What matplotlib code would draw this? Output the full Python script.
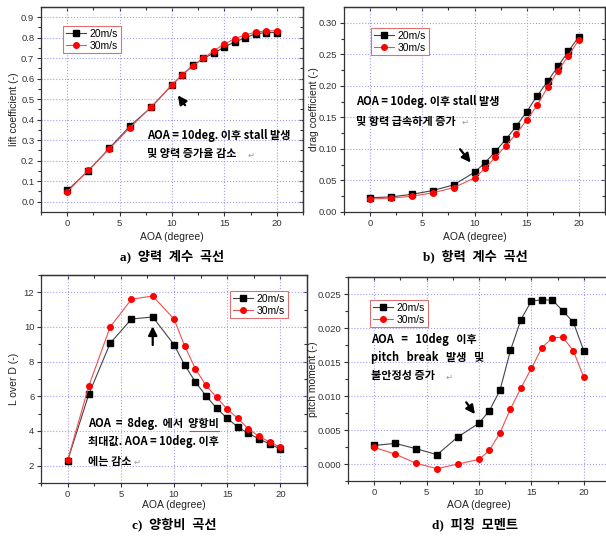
import matplotlib.pyplot as plt
import numpy as np

W, H = 606, 536

# --- DATA
aoa = [0, 2, 4, 6, 8, 10, 11, 12, 13, 14, 15, 16, 17, 18, 19, 20]

cl_20 = [0.055, 0.150, 0.260, 0.370, 0.460, 0.570, 0.620, 0.665, 0.700, 0.725,
         0.755, 0.780, 0.800, 0.820, 0.825, 0.825]
cl_30 = [0.048, 0.153, 0.257, 0.362, 0.462, 0.570, 0.620, 0.663, 0.700, 0.737,
         0.770, 0.795, 0.815, 0.827, 0.833, 0.835]

cd_20 = [0.0226, 0.024, 0.028, 0.034, 0.043, 0.063, 0.078, 0.096, 0.115, 0.136,
         0.159, 0.184, 0.207, 0.231, 0.255, 0.278]
cd_30 = [0.0205, 0.022, 0.025, 0.0305, 0.0385, 0.054, 0.069, 0.087, 0.105, 0.124,
         0.146, 0.169, 0.198, 0.224, 0.248, 0.273]

ld_20 = [2.29, 6.13, 9.06, 10.46, 10.58, 8.98, 7.81, 6.84, 6.03, 5.32,
         4.73, 4.23, 3.86, 3.54, 3.25, 2.96]
ld_30 = [2.31, 6.61, 10.0, 11.6, 11.79, 10.46, 8.91, 7.60, 6.63, 5.95,
         5.26, 4.73, 4.11, 3.69, 3.36, 3.06]

cm_20 = [0.00273, 0.00303, 0.00225, 0.00137, 0.0040, 0.0060, 0.00786, 0.01084,
         0.0167, 0.02124, 0.02397, 0.02412, 0.02412, 0.02251, 0.02085, 0.01665]
cm_30 = [0.00244, 0.00146, 0.0001, -0.00068, 0.0, 0.00068, 0.0020, 0.00459,
         0.0081, 0.01118, 0.01406, 0.01709, 0.01855, 0.01865, 0.01665, 0.01274]

labels = ["20m/s", "30m/s"]

KR = ['Noto Sans CJK KR', 'DejaVu Sans']
CAP = ['Liberation Serif', 'Noto Sans CJK KR', 'DejaVu Sans']
plt.rcParams['font.family'] = ['Liberation Sans', 'DejaVu Sans']


def rect(l, t, r, b):
    return [l / W, 1 - b / H, (r - l) / W, (b - t) / H]


def fpx(x, y):
    return x / W, 1 - y / H


fig = plt.figure(figsize=(W / 100, H / 100), dpi=100)


def panel(box, y20, y30, ylim, yticks, yminor, ylabel, leg_xy, ylab_x, xlab_y):
    l, t, r, b = box
    ax = fig.add_axes(rect(*box))
    ax.plot(aoa, y20, color="#444444", lw=0.8, marker="s", ms=4,
            mfc="black", mec="black", label=labels[0], zorder=3)
    ax.plot(aoa, y30, color="#f05050", lw=0.8, marker="o", ms=4,
            mfc="red", mec="red", label=labels[1], zorder=3)
    ax.set_xlim(-2.5, 22.5)
    ax.set_ylim(*ylim)
    xt = [0, 5, 10, 15, 20]
    xm = np.arange(-2.5, 22.6, 2.5)
    ax.set_xticks(xt)
    ax.set_xticks(xm, minor=True)
    ax.set_yticks(yticks)
    ax.set_yticks(yminor, minor=True)
    ax.grid(True, which="major", color="#a0a0f0", ls=":", lw=0.8)
    for s in ax.spines.values():
        s.set_color("#333333")
        s.set_linewidth(0.9)
    ax.tick_params(which="both", direction="out", colors="#333333",
                   labelsize=6.8, length=3, width=0.8, pad=1.8)
    ax.tick_params(which="minor", length=2)

    # inward ticks on top and right, like the original plotting program
    top = ax.secondary_xaxis("top")
    top.set_xticks(xt)
    top.set_xticks(xm, minor=True)
    right = ax.secondary_yaxis("right")
    right.set_yticks(yticks)
    right.set_yticks(yminor, minor=True)
    for sec in (top, right):
        sec.tick_params(which="both", direction="in", colors="#333333",
                        length=3, width=0.8, labeltop=False, labelright=False)
        sec.tick_params(which="minor", length=2)
        for s in sec.spines.values():
            s.set_color("#333333")
            s.set_linewidth(0.9)

    ax.set_xlabel("AOA (degree)", fontsize=7.5, color="#222222")
    ax.xaxis.set_label_coords(0.5, -(xlab_y - b) / (b - t))
    ax.set_ylabel(ylabel, fontsize=7.5, color="#222222")
    ax.yaxis.set_label_coords((ylab_x - l) / (r - l), 0.5)
    leg = ax.legend(loc="upper left", bbox_to_anchor=fpx(*leg_xy),
                    bbox_transform=fig.transFigure, borderaxespad=0,
                    fontsize=7.5, fancybox=False, framealpha=1,
                    edgecolor="#e07070", handlelength=2.0, borderpad=0.25,
                    labelspacing=0.2, handletextpad=0.3)
    leg.get_frame().set_linewidth(0.8)
    return ax


arrow = dict(arrowstyle="-|>", color="black", lw=1.6, mutation_scale=13)


def note(x, y, s):
    fig.text(*fpx(x, y), s, family=KR, fontsize=8, fontweight="bold",
             va="center")


def pmark(x, y):
    fig.text(*fpx(x, y), "↵", fontsize=6, color="#999999", va="center")


# a) lift
ax1 = panel((41, 7, 303, 212), cl_20, cl_30, (-0.05, 0.95),
            np.arange(0, 0.91, 0.1), np.arange(0.05, 0.95, 0.1),
            "lift coefficient (-)", (63, 26), 19, 232)
ax1.set_yticklabels(["%.1f" % v for v in np.arange(0, 0.91, 0.1)])
ax1.annotate("", xy=(10.4, 0.53), xytext=(11.4, 0.46), arrowprops=arrow)
note(147, 135, "AOA = 10deg. 이후 stall 발생")
note(147, 154, "및 양력 증가율 감소")
pmark(248, 156)

# b) drag
ax2 = panel((344, 7, 605, 212), cd_20, cd_30, (0, 0.325),
            np.arange(0, 0.31, 0.05), np.arange(0.025, 0.325, 0.05),
            "drag coefficient (-)", (371, 28), 319, 232)
ax2.set_yticklabels(["%.2f" % v for v in np.arange(0, 0.31, 0.05)])
ax2.annotate("", xy=(9.8, 0.075), xytext=(8.45, 0.103), arrowprops=arrow)
note(356, 102, "AOA = 10deg. 이후 stall 발생")
note(356, 121, "및 항력 급속하게 증가")
pmark(462, 123)

# c) L/D
ax3 = panel((41, 275, 307, 483), ld_20, ld_30, (1, 13),
            np.arange(2, 12.1, 2), np.arange(1, 13.1, 1),
            "L over D (-)", (230, 291), 19, 500)
ax3.annotate("", xy=(8, 10.2), xytext=(8, 8.8), arrowprops=arrow)
note(88, 424, "AOA  =  8deg.  에서  양항비")
note(88, 442, "최대값. AOA = 10deg. 이후")
note(88, 461, "에는 감소")
pmark(134, 463)
fig.add_artist(plt.Line2D([190 / W, 219 / W], [1 - 431 / H, 1 - 431 / H],
                          color="#e04040", lw=0.8))

# d) pitch moment
ax4 = panel((348, 277, 610, 481), cm_20, cm_30, (-0.0025, 0.0275),
            np.arange(0, 0.0251, 0.005), np.arange(-0.0025, 0.0276, 0.0025),
            "pitch moment (-)", (370, 300), 318, 500)
ax4.set_yticklabels(["%.3f" % v for v in np.arange(0, 0.0251, 0.005)])
ax4.annotate("", xy=(9.77, 0.0070), xytext=(8.62, 0.0094), arrowprops=arrow)
note(371, 339, "AOA   =   10deg   이후")
note(371, 358, "pitch   break   발생   및")
note(371, 376, "불안정성 증가")
pmark(446, 378)

# --- CAPTIONS
for cx, cy, s in [(172, 256, "a)  양력  계수  곡선"), (475, 256, "b)  항력  계수  곡선"),
                  (174, 524, "c)  양항비  곡선"), (475, 524, "d)  피칭  모멘트")]:
    fig.text(*fpx(cx, cy), s, family=CAP, fontsize=9.5, fontweight="bold",
             ha="center", va="center")

fig.savefig("out.png", dpi=100)
